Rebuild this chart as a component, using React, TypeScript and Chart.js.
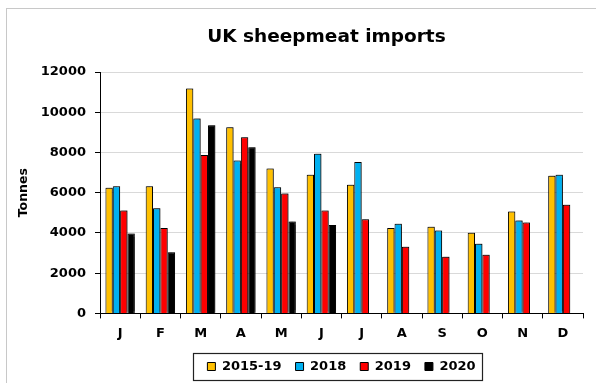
import { useEffect, useRef } from "react";
import { Chart, registerables } from "chart.js";

Chart.register(...registerables);

const months = ["J", "F", "M", "A", "M", "J", "J", "A", "S", "O", "N", "D"];
const seriesLabels = ["2015-19", "2018", "2019", "2020"];
const avg2015to19 = [6250, 6320, 11175, 9255, 7200, 6890, 6390, 4240, 4305, 4005, 5065, 6840];
const imports2018 = [6320, 5230, 9685, 7600, 6275, 7930, 7530, 4455, 4120, 3460, 4620, 6890];
const imports2019 = [5115, 4240, 7880, 8760, 5960, 5115, 4685, 3310, 2815, 2915, 4520, 5400];
const imports2020 = [3970, 3045, 9355, 8260, 4570, 4400, null, null, null, null, null, null];
const seriesColors = ["#FFC000", "#00B0F0", "#FF0000", "#000000"];
const yMax = 12000;
const yStep = 2000;

const FONT = "'DejaVu Sans', Verdana, sans-serif";

const framePlugin = {
  id: "frame",
  beforeDraw(chart: any) {
    const { ctx, width, height } = chart;
    ctx.save();
    ctx.fillStyle = "#ffffff";
    ctx.fillRect(0, 0, width, height);
    ctx.strokeStyle = "#c8c8c8";
    ctx.lineWidth = 1;
    ctx.strokeRect(6.5, 8.5, width + 10, height + 10);
    ctx.fillStyle = "#000000";
    ctx.font = `bold 18.5px ${FONT}`;
    ctx.textAlign = "center";
    ctx.textBaseline = "middle";
    ctx.fillText("UK sheepmeat imports", 326.5, 37);
    ctx.restore();
  },
};

const shadowPlugin = {
  id: "barShadow",
  beforeDatasetsDraw(chart: any) {
    const ctx = chart.ctx;
    ctx.save();
    ctx.shadowColor = "rgba(0,0,0,0.45)";
    ctx.shadowBlur = 1.5;
    ctx.shadowOffsetX = 1.2;
    ctx.shadowOffsetY = -1;
  },
  afterDatasetsDraw(chart: any) {
    chart.ctx.restore();
  },
};

// Frames the legend items with a box.
const legendBoxPlugin = {
  id: "legendBox",
  afterDraw(chart: any) {
    const boxes = chart.legend?.legendHitBoxes;
    if (!boxes || !boxes.length) return;
    const left = Math.min(...boxes.map((b: any) => b.left));
    const right = Math.max(...boxes.map((b: any) => b.left + b.width));
    const mid = boxes[0].top + boxes[0].height / 2;
    const ctx = chart.ctx;
    ctx.save();
    ctx.strokeStyle = "#222222";
    ctx.lineWidth = 1.2;
    ctx.strokeRect(Math.round(left - 14) + 0.5, Math.round(mid - 14) + 0.5, Math.round(right - left + 21), 27);
    ctx.restore();
  },
};

export default function App() {
  const canvasRef = useRef<HTMLCanvasElement | null>(null);

  useEffect(() => {
    if (!canvasRef.current) return;
    const series = [avg2015to19, imports2018, imports2019, imports2020];
    const chart = new Chart(canvasRef.current, {
      type: "bar",
      data: {
        labels: months,
        datasets: series.map((values, i) => ({
          label: seriesLabels[i],
          data: values,
          backgroundColor: seriesColors[i],
          borderColor: "#000000",
          borderWidth: 1,
          categoryPercentage: 0.73,
          barPercentage: 1.0,
        })),
      },
      options: {
        responsive: false,
        animation: false,
        events: [],
        layout: { padding: { left: 6, right: 13, top: 72, bottom: 0 } },
        plugins: {
          title: { display: false },
          tooltip: { enabled: false },
          legend: {
            display: true,
            position: "bottom",
            fullSize: false,
            labels: {
              color: "#000000",
              font: { family: FONT, size: 13, weight: "bold" },
              boxWidth: 8,
              boxHeight: 8,
              padding: 14,
            },
          },
        },
        scales: {
          x: {
            afterFit(scale: any) {
              scale.height -= 2;
            },
            grid: {
              display: true,
              drawOnChartArea: false,
              drawTicks: true,
              tickLength: 5,
              tickColor: "#000000",
              offset: true,
            },
            border: { display: true, color: "#000000", width: 1 },
            ticks: {
              color: "#000000",
              font: { family: FONT, size: 13, weight: "bold" },
              padding: 7,
              maxRotation: 0,
              autoSkip: false,
            },
          },
          y: {
            min: 0,
            max: yMax,
            afterFit(scale: any) {
              scale.width = 94;
            },
            grid: {
              color: "#d9d9d9",
              lineWidth: 1,
              drawTicks: true,
              tickLength: 5,
              tickColor: "#000000",
            },
            border: { display: true, color: "#000000", width: 1 },
            ticks: {
              stepSize: yStep,
              color: "#000000",
              font: { family: FONT, size: 13, weight: "bold" },
              padding: 9,
              callback: (value: any) => String(value),
            },
            title: {
              display: true,
              text: "Tonnes",
              color: "#000000",
              font: { family: FONT, size: 12.5, weight: "bold" },
              padding: { top: 10, bottom: 0 },
            },
          },
        },
      },
      plugins: [framePlugin, shadowPlugin, legendBoxPlugin],
    });
    return () => chart.destroy();
  }, []);

  return (
    <div style={{ position: "absolute", left: 0, top: 0, width: 596, height: 383 }}>
      <canvas ref={canvasRef} width={596} height={383} />
    </div>
  );
}
